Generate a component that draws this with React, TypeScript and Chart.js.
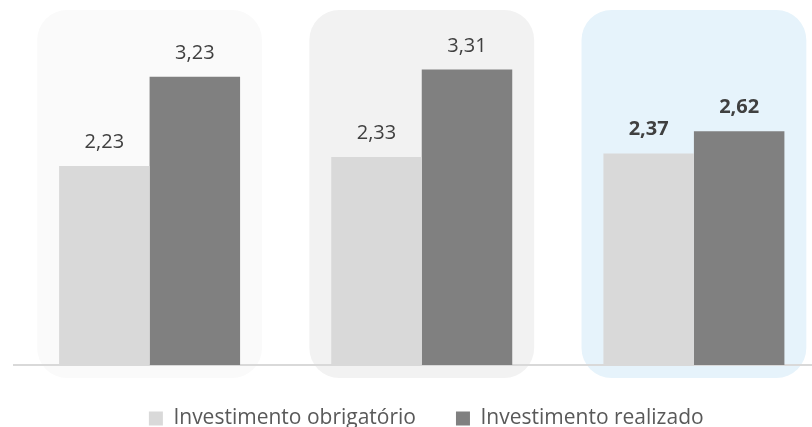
import React, { useEffect, useRef } from 'react';
import { Chart, registerables } from 'chart.js';

Chart.register(...registerables);

// ---- data ----
const categories = ['Período 1', 'Período 2', 'Período 3'];
const seriesLabels = ['Investimento obrigatório', 'Investimento realizado'];
const investimentoObrigatorio = [2.23, 2.33, 2.37];
const investimentoRealizado = [3.23, 3.31, 2.62];
const yMax = 4;
const highlightIndex = 2;

// ---- styles ----
const panelColors = ['#fafafa', '#f2f2f2', '#e6f3fb'];
const barColors = ['#d9d9d9', '#808080'];
const FONT = '"Open Sans", "DejaVu Sans", sans-serif';

const fmt = (v: number) => v.toFixed(2).replace('.', ',');

const panelPlugin = {
  id: 'panels',
  beforeDraw(chart: any) {
    const { ctx, chartArea, scales } = chart;
    const x = scales.x;
    const step = x.width / categories.length;
    const half = step * 0.413;
    const top = chartArea.top + 2;
    const bottom = chartArea.bottom + 13;
    ctx.save();
    categories.forEach((_, i) => {
      const cx = x.getPixelForValue(i);
      ctx.fillStyle = panelColors[i];
      ctx.beginPath();
      ctx.roundRect(cx - half, top, half * 2, bottom - top, 30);
      ctx.fill();
    });
    ctx.restore();
  },
};

const labelPlugin = {
  id: 'valueLabels',
  afterDatasetsDraw(chart: any) {
    const { ctx } = chart;
    ctx.save();
    ctx.fillStyle = '#404040';
    ctx.textAlign = 'center';
    ctx.textBaseline = 'alphabetic';
    chart.data.datasets.forEach((ds: any, di: number) => {
      const meta = chart.getDatasetMeta(di);
      meta.data.forEach((bar: any, i: number) => {
        ctx.font = `${i === highlightIndex ? 'bold ' : ''}20px ${FONT}`;
        ctx.fillText(fmt(ds.data[i]), bar.x, bar.y - 18);
      });
    });
    ctx.restore();
  },
};

export default function App() {
  const ref = useRef<HTMLCanvasElement | null>(null);

  useEffect(() => {
    if (!ref.current) return;
    const chart = new Chart(ref.current, {
      type: 'bar',
      data: {
        labels: categories,
        datasets: [
          {
            label: seriesLabels[0],
            data: investimentoObrigatorio,
            backgroundColor: barColors[0],
            categoryPercentage: 0.665,
            barPercentage: 1,
          },
          {
            label: seriesLabels[1],
            data: investimentoRealizado,
            backgroundColor: barColors[1],
            categoryPercentage: 0.665,
            barPercentage: 1,
          },
        ],
      },
      options: {
        responsive: false,
        animation: false,
        layout: { padding: { left: 13.5, right: 0, top: 8, bottom: 1 } },
        scales: {
          x: {
            display: true,
            grid: { display: false, drawTicks: false },
            ticks: { display: false },
            border: { display: true, color: '#d9d9d9', width: 2 },
            afterFit: (s: any) => {
              s.height = 3;
            },
          },
          y: {
            position: 'right',
            min: 0,
            max: yMax,
            grid: { display: false, drawTicks: false },
            ticks: { display: false },
            border: { display: false },
            afterFit: (s: any) => {
              s.width = 9;
            },
          },
        },
        plugins: {
          legend: {
            position: 'bottom',
            labels: {
              boxWidth: 14,
              boxHeight: 14,
              padding: 40,
              color: '#595959',
              font: { family: FONT, size: 21 },
            },
          },
          tooltip: { enabled: false },
        },
      } as any,
      plugins: [panelPlugin, labelPlugin],
    });
    return () => chart.destroy();
  }, []);

  return (
    <div
      style={{
        position: 'fixed',
        left: 0,
        top: 0,
        width: 812,
        height: 427,
        overflow: 'hidden',
        background: '#ffffff',
      }}
    >
      <canvas ref={ref} width={839} height={440} style={{ display: 'block' }} />
    </div>
  );
}
